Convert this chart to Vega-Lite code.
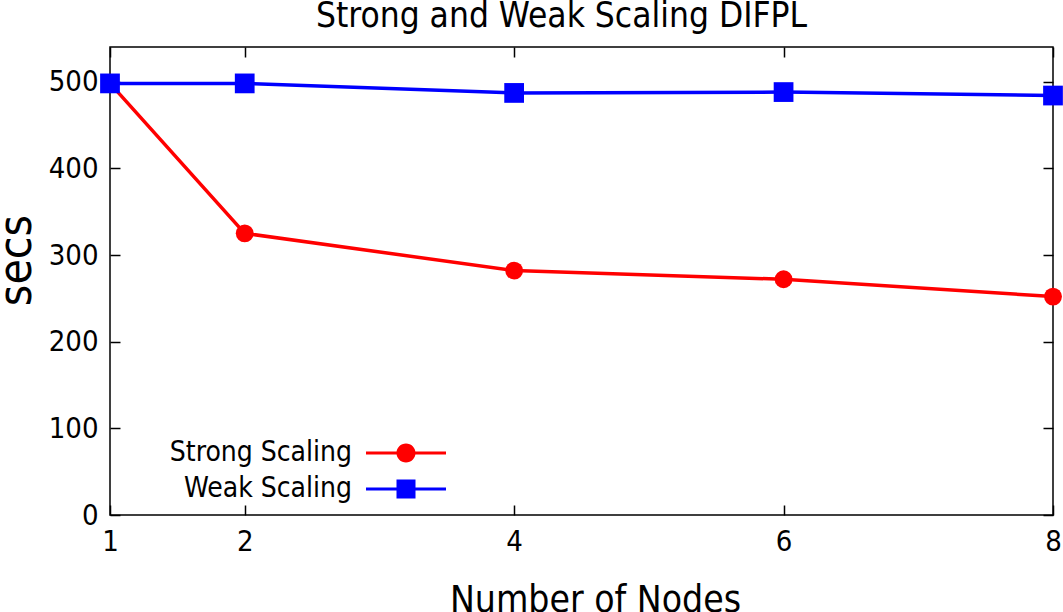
{
  "$schema": "https://vega.github.io/schema/vega-lite/v6.json",
  "width": 943,
  "height": 468,
  "autosize": {"type": "none"},
  "padding": {"left": 110, "top": 47, "right": 10, "bottom": 97},
  "background": "white",
  "title": {
    "text": "Strong and Weak Scaling DIFPL",
    "font": "DejaVu Sans Condensed, Liberation Sans",
    "fontSize": 35,
    "fontWeight": "normal",
    "color": "black",
    "baseline": "bottom",
    "offset": -23,
    "dx": -20
  },
  "config": {
    "view": {"stroke": "black", "strokeWidth": 1.5},
    "axis": {
      "grid": false,
      "domain": false,
      "tickColor": "black",
      "tickWidth": 1.5,
      "tickSize": -10,
      "labelFont": "DejaVu Sans Condensed, Liberation Sans",
      "labelFontSize": 29,
      "labelColor": "black",
      "labelFlush": false,
      "labelOverlap": false,
      "titleFont": "DejaVu Sans Condensed, Liberation Sans",
      "titleFontWeight": "normal",
      "titleColor": "black"
    }
  },
  "data": {
    "values": [
      {"nodes": 1, "secs": 498, "series": "Strong Scaling"},
      {"nodes": 2, "secs": 325, "series": "Strong Scaling"},
      {"nodes": 4, "secs": 282, "series": "Strong Scaling"},
      {"nodes": 6, "secs": 272, "series": "Strong Scaling"},
      {"nodes": 8, "secs": 252, "series": "Strong Scaling"},
      {"nodes": 1, "secs": 498, "series": "Weak Scaling"},
      {"nodes": 2, "secs": 498, "series": "Weak Scaling"},
      {"nodes": 4, "secs": 487, "series": "Weak Scaling"},
      {"nodes": 6, "secs": 488, "series": "Weak Scaling"},
      {"nodes": 8, "secs": 484, "series": "Weak Scaling"}
    ]
  },
  "layer": [
    {
      "mark": {"type": "line", "strokeWidth": 3.5},
      "encoding": {
        "x": {
          "field": "nodes", "type": "quantitative",
          "scale": {"domain": [1, 8], "nice": false, "zero": false},
          "axis": {"orient": "bottom", "values": [1, 2, 4, 6, 8], "title": "Number of Nodes", "titleFontSize": 37, "labelPadding": 22, "titlePadding": 26, "titleX": 485}
        },
        "y": {
          "field": "secs", "type": "quantitative",
          "scale": {"domain": [0, 540], "nice": false},
          "axis": {"orient": "left", "values": [0, 100, 200, 300, 400, 500], "title": "secs", "titleFontSize": 46, "labelPadding": 22, "titlePadding": 8, "titleY": 213}
        },
        "color": {
          "field": "series", "type": "nominal",
          "scale": {"domain": ["Strong Scaling", "Weak Scaling"], "range": ["#ff0000", "#0000ff"]},
          "legend": {
            "title": null,
            "orient": "none",
            "legendX": 200,
            "legendY": 392,
            "padding": 0,
            "symbolSize": 400,
            "symbolStrokeWidth": 0,
            "symbolOffset": 82,
            "labelOffset": -68,
            "labelAlign": "right",
            "labelLimit": 500,
            "labelFont": "DejaVu Sans Condensed, Liberation Sans",
            "labelFontSize": 28,
            "labelColor": "black",
            "rowPadding": 8,
            "encode": {
              "symbols": {
                "update": {
                  "shape": {"signal": "datum.value === 'Strong Scaling' ? 'M-4,-0.15H-0.8V0.15H-4Z M0.8,-0.15H4V0.15H0.8Z M-0.95,0A0.95,0.95 0 1,1 0.95,0A0.95,0.95 0 1,1 -0.95,0Z' : 'M-4,-0.15H-0.95V0.15H-4Z M0.95,-0.15H4V0.15H0.95Z M-0.95,-0.95H0.95V0.95H-0.95Z'"},
                  "fill": {"signal": "datum.value === 'Strong Scaling' ? '#ff0000' : '#0000ff'"},
                  "stroke": {"value": "transparent"},
                  "strokeWidth": {"value": 0},
                  "size": {"value": 400},
                  "opacity": {"value": 1}
                }
              }
            }
          }
        }
      }
    },
    {
      "transform": [{"filter": "datum.series === 'Strong Scaling'"}],
      "mark": {"type": "point", "shape": "circle", "filled": true, "opacity": 1, "color": "#ff0000", "size": 320},
      "encoding": {
        "x": {"field": "nodes", "type": "quantitative", "axis": null},
        "y": {"field": "secs", "type": "quantitative", "axis": null}
      }
    },
    {
      "transform": [{"filter": "datum.series === 'Weak Scaling'"}],
      "mark": {"type": "point", "shape": "square", "filled": true, "opacity": 1, "color": "#0000ff", "size": 390},
      "encoding": {
        "x": {"field": "nodes", "type": "quantitative", "axis": null},
        "y": {"field": "secs", "type": "quantitative", "axis": null}
      }
    },
    {
      "mark": {"type": "point", "opacity": 0},
      "encoding": {
        "x": {"field": "nodes", "type": "quantitative", "axis": {"orient": "top", "values": [1, 2, 4, 6, 8], "labels": false, "title": null}},
        "y": {"field": "secs", "type": "quantitative", "axis": {"orient": "right", "values": [0, 100, 200, 300, 400, 500], "labels": false, "title": null}}
      }
    }
  ],
  "resolve": {"axis": {"x": "independent", "y": "independent"}}
}
